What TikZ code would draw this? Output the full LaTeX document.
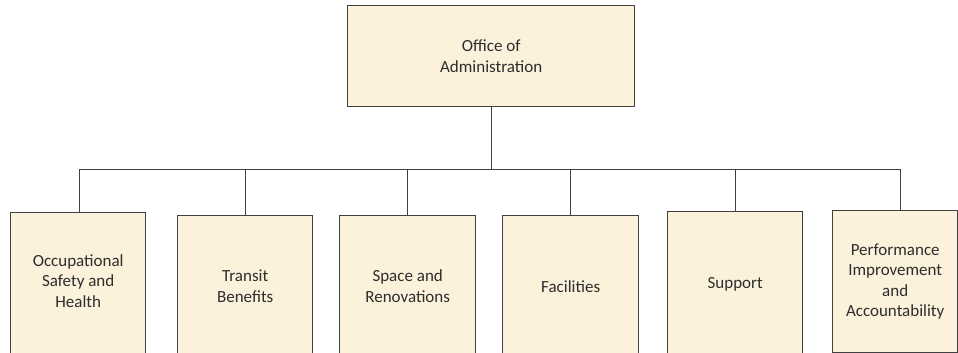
\documentclass[tikz,border=0pt]{standalone}
\usepackage{fontspec}
\setmainfont{Carlito}
\definecolor{boxfill}{RGB}{252,241,219}
\definecolor{boxline}{RGB}{64,64,64}
\definecolor{txt}{RGB}{45,45,45}
\begin{document}
\begin{tikzpicture}[x=1pt,y=-1pt,
  orgbox/.style={draw=boxline, line width=1.4pt, fill=boxfill, rectangle, anchor=north west,
    inner sep=0pt, align=center, text=txt, font=\fontsize{17}{20.5}\selectfont},
  conn/.style={draw=boxline, line width=1.3pt}]
\useasboundingbox (0,0) rectangle (958,353);
\clip (0,0) rectangle (958,353);
\fill[white] (0,0) rectangle (958,353);
\node[orgbox, minimum width=287pt, minimum height=101pt] (top) at (347,5) {Office of\\Administration};
\node[orgbox, minimum width=135pt, minimum height=146pt, text depth=10pt] (c1) at (10,212) {Occupational\\Safety and\\Health};
\node[orgbox, minimum width=135pt, minimum height=141pt] (c2) at (177,215) {Transit\\Benefits};
\node[orgbox, minimum width=136pt, minimum height=141pt] (c3) at (339,215) {Space and\\Renovations};
\node[orgbox, minimum width=136pt, minimum height=141pt] (c4) at (502,215) {Facilities};
\node[orgbox, minimum width=135pt, minimum height=145pt] (c5) at (667,211) {Support};
\node[orgbox, minimum width=125pt, minimum height=142pt] (c6) at (832,210) {Performance\\Improvement\\and\\Accountability};
\draw[conn] (top.south) -- ++(0,62) -| ([xshift=1.5pt]c1.north);
\draw[conn] (top.south) -- ++(0,62) -| ([xshift=0.5pt]c2.north);
\draw[conn] (top.south) -- ++(0,62) -| (c3.north);
\draw[conn] (top.south) -- ++(0,62) -| (c4.north);
\draw[conn] (top.south) -- ++(0,62) -| (c5.north);
\draw[conn] (top.south) -- ++(0,62) -| ([xshift=5.5pt]c6.north);
\end{tikzpicture}
\end{document}
